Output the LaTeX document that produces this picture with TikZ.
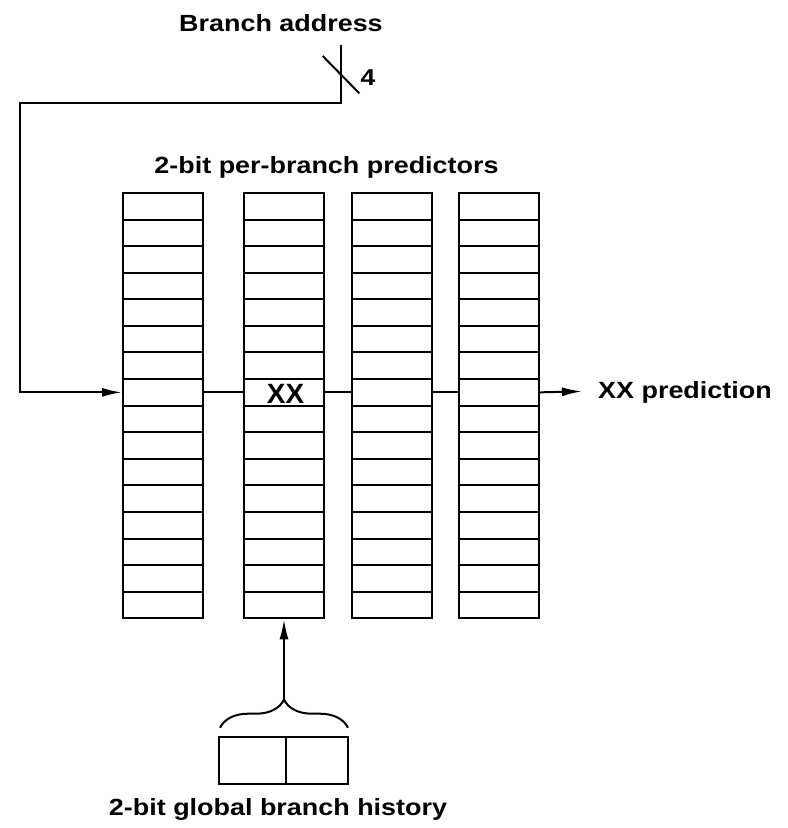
\documentclass[tikz,border=0pt]{standalone}
\usepackage{fontspec}
\setmainfont{Liberation Sans}[FakeStretch=1.15]
\newfontfamily\xxfont{Liberation Sans}
\usetikzlibrary{arrows.meta,decorations.pathreplacing}
\begin{document}
\begin{tikzpicture}[x=1bp,y=-1bp,
  cell/.style={draw,line width=2bp,minimum width=80bp,minimum height=26.58bp,inner sep=0pt,anchor=north west},
  hbox/.style={draw,line width=2bp,minimum height=47.6bp,inner sep=0pt,anchor=north west},
  wire/.style={line width=2bp},
  arr/.style={wire,-{Latex[length=20bp,width=9bp]}},
  lbl/.style={font=\fontsize{23.5}{27}\selectfont\bfseries,inner sep=0pt,anchor=base},
  big/.style={font=\xxfont\fontsize{28}{30}\selectfont\bfseries,inner sep=0pt,anchor=base},
  small/.style={font=\fontsize{23}{26}\selectfont\bfseries,inner sep=0pt,anchor=base}]
\useasboundingbox (0,0) rectangle (788,828);
\foreach \c/\x in {1/122,2/243,3/350.5,4/458}{
  \foreach \r in {1,...,16}{
    \node[cell] (c\c-\r) at (\x,{192+(\r-1)*26.58}) {};
  }
}
\node[big] (xx) at ([xshift=1.5bp,yshift=-11bp]c2-8.center) {XX};
\node[lbl] (ba) at (281,31.5) {Branch address};
\node[small] (four) at (368,85) {4};
\node[lbl] (title) at (326.5,173.5) {2-bit per-branch predictors};
\node[lbl,anchor=base west] (pred) at (598,398) {XX prediction};
\node[lbl] (hist) at (278,815) {2-bit global branch history};
% address wire
\coordinate (baend) at (340.7,45);
\coordinate (bend) at (340.7,103);
\coordinate (lft) at (20,103);
\draw[arr] (baend) -- (bend) -- (lft) |- (c1-8.west);
\draw[wire] (322.7,56) -- (359.3,93.3);
% row wires
\draw[wire] (c1-8.east) -- (c2-8.west);
\draw[wire] (c2-8.east) -- (c3-8.west);
\draw[wire] (c3-8.east) -- (c4-8.west);
\coordinate (predtip) at (582,391.35);
\draw[arr] (c4-8.east) -- (predtip);
% history register
\node[hbox,minimum width=67.3bp] (h1) at (217.7,735.7) {};
\node[hbox,minimum width=61.7bp] (h2) at (285,735.7) {};
\draw[wire,decorate,decoration={brace,amplitude=28bp}] (220,727.7) -- (348,727.7);
\coordinate (tip) at (284,699);
\draw[arr] (tip) -- (tip |- c2-16.south);
\end{tikzpicture}
\end{document}
